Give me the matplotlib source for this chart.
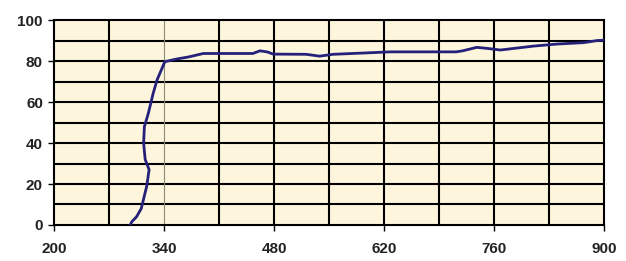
''' 透过率曲线 绘图 '''
import matplotlib
matplotlib.use('Agg')
import matplotlib.pyplot as plt
import numpy as np

# 数据
wavelength = [297, 299, 305, 311, 318, 321, 316, 314, 315, 320, 326, 331, 341,
              356, 371, 390, 420, 453, 462, 471, 479, 521, 538, 555, 598, 628,
              680, 712, 720, 738, 751, 768, 810, 840, 874, 891, 900]
transmission = [0, 1.6, 4, 8, 19, 27, 32, 40, 48, 54.5, 64, 70.7, 79.7,
                81, 82, 83.7, 83.7, 83.7, 85, 84.5, 83.4, 83.3, 82.4, 83.3, 84, 84.5,
                84.5, 84.5, 85, 86.7, 86.2, 85.4, 87.3, 88.3, 89, 90, 90.2]
x_ticks = [200, 340, 480, 620, 760, 900]
y_ticks = [0, 20, 40, 60, 80, 100]

plt.rcParams['font.family'] = ['Liberation Sans', 'DejaVu Sans']

fig = plt.figure(figsize=(6.26, 2.61), dpi=100)
ax = fig.add_axes([0.0863, 0.138, 0.8787, 0.785])
ax.set_facecolor('#fdf5dc')

# 网格线
for yy in np.arange(10, 100, 10):
    ax.axhline(yy, color='black', lw=1.5, zorder=1)
for xx in np.arange(270, 900, 70):
    if xx == 340:
        ax.axvline(xx, color='#8a8a7a', lw=0.8, zorder=1)
    else:
        ax.axvline(xx, color='black', lw=1.5, zorder=1)

# 曲线
ax.plot(wavelength, transmission, color='#25207a', lw=2, zorder=3)

ax.set_xlim(200, 900)
ax.set_ylim(0, 100)
ax.set_xticks(x_ticks)
ax.set_yticks(y_ticks)
for s in ax.spines.values():
    s.set_color('black')
    s.set_linewidth(1.5)
ax.tick_params(axis='both', direction='out', length=4, width=1, colors='black',
               labelsize=11, labelcolor='#222222')
ax.tick_params(axis='x', pad=8)
ax.tick_params(axis='y', pad=4)
for lab in ax.get_xticklabels() + ax.get_yticklabels():
    lab.set_fontweight('bold')

plt.savefig('out.png', dpi=100)
